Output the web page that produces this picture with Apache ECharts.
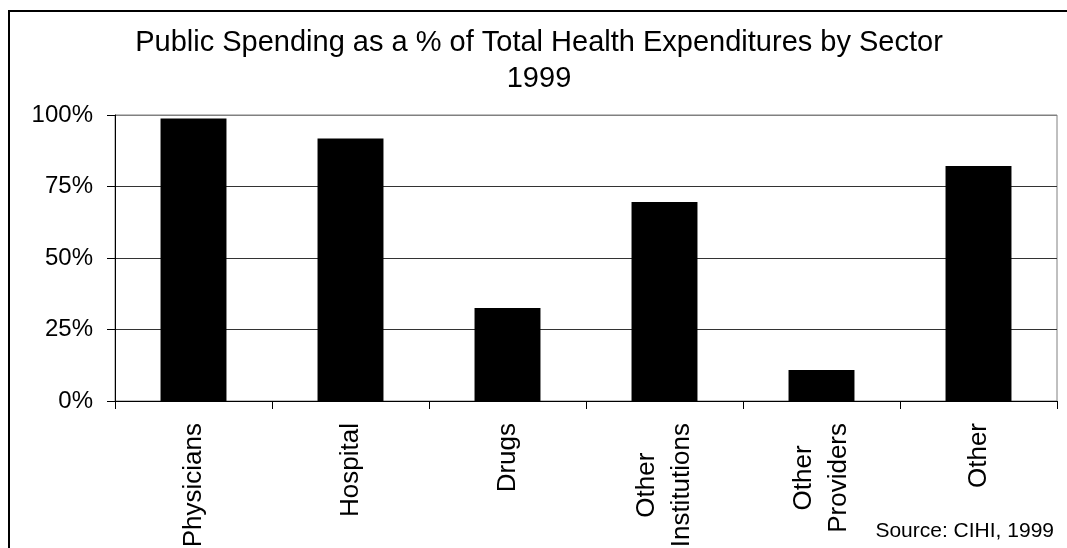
<!DOCTYPE html>
<html>
<head>
<meta charset="utf-8">
<script src="https://cdn.jsdelivr.net/npm/echarts@6/dist/echarts.min.js"></script>
<style>
  html, body { margin: 0; padding: 0; background: #fff; }
  #chart { width: 1067px; height: 548px; }
</style>
</head>
<body>
<div id="chart"></div>
<script>
// Sectors along the horizontal axis (line breaks split long names)
const sectors = ['Physicians', 'Hospital', 'Drugs', 'Other\nInstitutions', 'Other\nProviders', 'Other'];
// Public share of total health spending, percent
const publicShare = [98.8, 91.8, 32.5, 69.6, 10.8, 82.2];
// Percentage scale
const yTicks = { min: 0, max: 100, step: 25 };

const FONT = '"Liberation Sans", Arial, Helvetica, sans-serif';

const chart = echarts.init(document.getElementById('chart'), null, { renderer: 'canvas' });

chart.setOption({
  backgroundColor: '#ffffff',
  animation: false,
  title: [
    {
      text: 'Public Spending as a % of Total Health Expenditures by Sector\n1999',
      left: 534,
      textAlign: 'center',
      top: 20,
      textStyle: { fontFamily: FONT, fontSize: 29, fontWeight: 'normal', color: '#000', lineHeight: 36 }
    },
    {
      text: 'Source: CIHI, 1999',
      right: 8,
      top: 516,
      textStyle: { fontFamily: FONT, fontSize: 21, fontWeight: 'normal', color: '#000' }
    }
  ],
  graphic: [
    {
      type: 'rect',
      silent: true,
      z: -1,
      shape: { x: 9, y: 11, width: 1100, height: 600 },
      style: { fill: 'none', stroke: '#000', lineWidth: 2 }
    }
  ],
  grid: {
    left: 115, top: 115, right: 10, bottom: 147,
    containLabel: false,
    outerBoundsMode: 'none',
    show: true, borderColor: '#808080', borderWidth: 1, backgroundColor: 'transparent'
  },
  xAxis: {
    type: 'category',
    data: sectors,
    axisLine: { lineStyle: { color: '#000', width: 1 } },
    axisTick: { show: true, length: 8, alignWithLabel: false, lineStyle: { color: '#000' } },
    axisLabel: {
      interval: 0,
      rotate: 90,
      margin: 22,
      color: '#000',
      fontFamily: FONT,
      fontSize: 26,
      formatter: function (v) {
        return v.split('\n').map(function (line) { return '{c|' + line + '}'; }).join('\n');
      },
      rich: {
        c: { align: 'center', fontFamily: FONT, fontSize: 26, color: '#000', lineHeight: 35 }
      }
    }
  },
  yAxis: {
    type: 'value',
    min: yTicks.min,
    max: yTicks.max,
    interval: yTicks.step,
    axisLine: { show: true, lineStyle: { color: '#000', width: 1 } },
    axisTick: { show: true, length: 8, lineStyle: { color: '#000' } },
    axisLabel: {
      margin: 22,
      color: '#000',
      fontFamily: FONT,
      fontSize: 24,
      formatter: '{value}%'
    },
    splitLine: {
      show: true,
      lineStyle: { color: ['#333', '#333', '#333', '#333', '#808080'], width: 1 }
    }
  },
  series: [
    {
      type: 'bar',
      data: publicShare,
      barCategoryGap: '58%',
      itemStyle: { color: '#000', borderColor: '#000', borderWidth: 0 }
    }
  ]
});
</script>
</body>
</html>
